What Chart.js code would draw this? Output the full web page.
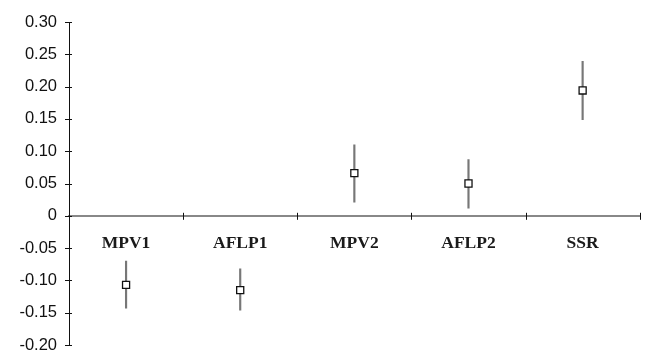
<!DOCTYPE html>
<html>
<head>
<meta charset="utf-8">
<script src="https://cdn.jsdelivr.net/npm/chart.js@4"></script>
<style>
  html, body { margin: 0; padding: 0; background: #fff; }
  #wrap { width: 646px; height: 353px; }
</style>
</head>
<body>
<div id="wrap"><canvas id="chart"></canvas></div>
<script>
// markers: estimate and error range per marker set
const categories = ['MPV1', 'AFLP1', 'MPV2', 'AFLP2', 'SSR'];
const estimates = [-0.107, -0.115, 0.066, 0.050, 0.194];
const lowerBounds = [-0.143, -0.146, 0.021, 0.012, 0.149];
const upperBounds = [-0.070, -0.082, 0.110, 0.087, 0.239];
const yTicks = { min: -0.20, max: 0.30, step: 0.05 };

// tick marks that cross the axis line, like the original
const crossTicks = {
  id: 'crossTicks',
  afterDraw(chart) {
    const { ctx, scales: { x, y } } = chart;
    ctx.save();
    ctx.lineWidth = 1;
    ctx.strokeStyle = '#111';
    y.ticks.forEach((t, i) => {
      const py = Math.round(y.getPixelForTick(i)) + 0.5;
      ctx.beginPath();
      ctx.moveTo(y.right - 4, py);
      ctx.lineTo(y.right + 3, py);
      ctx.stroke();
    });
    const y0 = y.getPixelForValue(0);
    for (let i = 1; i <= categories.length; i++) {
      const px = Math.round(x.getPixelForValue(i - 0.5)) + 0.5;
      ctx.beginPath();
      ctx.moveTo(px, y0 - 3);
      ctx.lineTo(px, y0 + 4);
      ctx.stroke();
    }
    ctx.restore();
  }
};

new Chart(document.getElementById('chart'), {
  type: 'bar',
  data: {
    labels: categories,
    datasets: [
      {
        type: 'line',
        data: estimates,
        showLine: false,
        pointStyle: 'rect',
        pointRadius: 5,
        pointBorderWidth: 1.3,
        pointBorderColor: '#111',
        pointBackgroundColor: '#fff',
        order: 0,
      },
      {
        data: categories.map((c, i) => [lowerBounds[i], upperBounds[i]]),
        backgroundColor: '#777',
        barThickness: 1.5,
        order: 1,
      },
    ],
  },
  options: {
    responsive: true,
    maintainAspectRatio: false,
    animation: false,
    layout: { padding: { top: 22, right: 3, bottom: 8, left: 0 } },
    plugins: { legend: { display: false }, tooltip: { enabled: false } },
    scales: {
      x: {
        position: { y: 0 },
        grid: { display: false },
        border: { display: true, color: '#888', width: 2 },
        ticks: {
          padding: 9,
          color: '#1a1a1a',
          font: { family: '"Liberation Serif", "Times New Roman", serif', size: 17.5, weight: 'bold' },
        },
      },
      y: {
        min: yTicks.min,
        max: yTicks.max,
        afterFit: s => { s.width = 69; s.paddingTop = 0; s.paddingBottom = 0; },
        grid: { display: false, drawTicks: false },
        border: { display: true, color: '#111', width: 1 },
        ticks: {
          stepSize: yTicks.step,
          padding: 12,
          color: '#111',
          font: { family: '"Liberation Sans", Arial, sans-serif', size: 16.5 },
          callback: v => Math.abs(v) < 1e-9 ? '0' : v.toFixed(2),
        },
      },
    },
  },
  plugins: [crossTicks],
});
</script>
</body>
</html>
